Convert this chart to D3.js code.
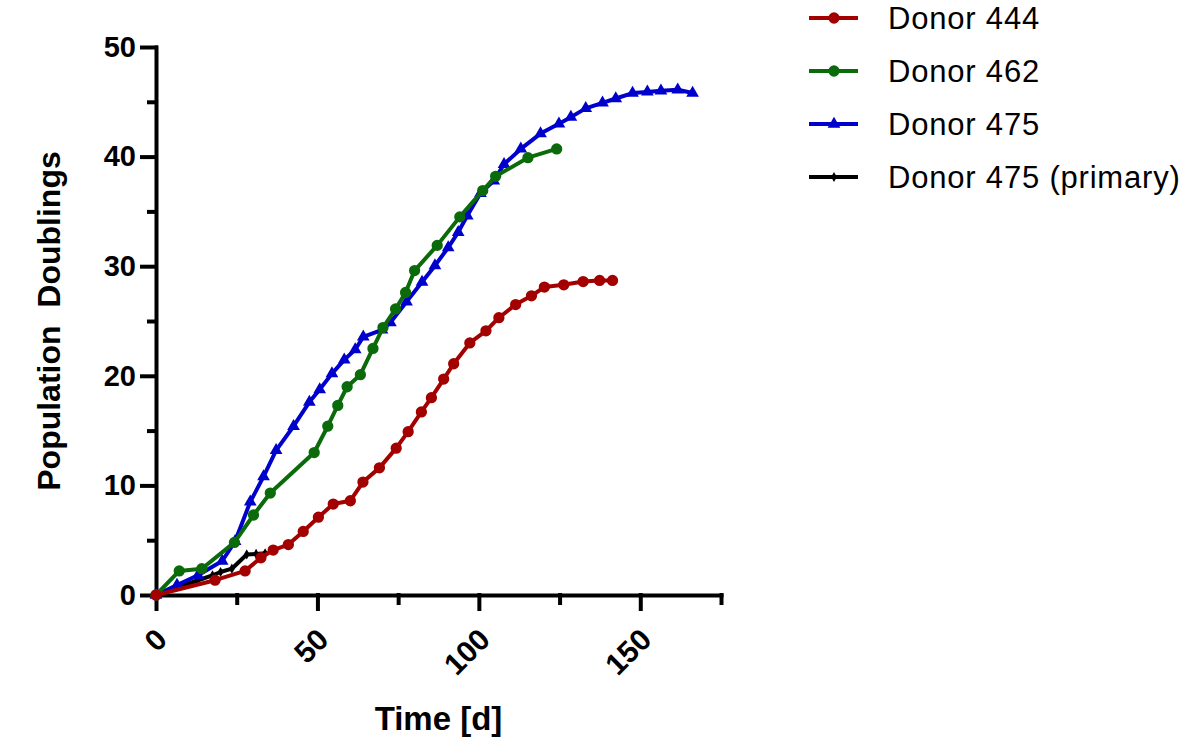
<!DOCTYPE html>
<meta charset="utf-8">
<html>
<head>
<script src="https://d3js.org/d3.v7.min.js"></script>
<style>
body { margin: 0; background: #fff; }
text { font-family: "Liberation Sans", Arial, sans-serif; }
</style>
</head>
<body>
<div id="chart"></div>
<script>

// data: time [d] and population doublings
var days444 = [0, 18.3, 27.6, 32.5, 36.3, 41.0, 45.6, 50.3, 54.9, 60.2, 64.1, 69.2, 74.4, 78.1, 82.2, 85.3, 89.1, 92.2, 97.2, 102.2, 106.2, 111.4, 116.3, 120.3, 126.3, 132.3, 137.4, 141.4];
var pd444   = [0, 1.35, 2.2, 3.4, 4.1, 4.6, 5.8, 7.1, 8.3, 8.6, 10.3, 11.6, 13.4, 14.9, 16.7, 18.0, 19.7, 21.1, 23.0, 24.1, 25.3, 26.5, 27.3, 28.1, 28.3, 28.6, 28.7, 28.7];

var days462 = [0, 7.2, 14.2, 24.3, 30.2, 35.4, 49.0, 53.2, 56.3, 59.2, 63.3, 67.2, 70.3, 74.2, 77.3, 80.1, 87.1, 94.1, 101.2, 105.2, 115.2, 124.1];
var pd462   = [0, 2.2, 2.4, 4.8, 7.3, 9.3, 13.0, 15.4, 17.3, 19.0, 20.1, 22.5, 24.4, 26.1, 27.6, 29.6, 31.9, 34.5, 36.9, 38.2, 39.9, 40.7];

var days475 = [0, 6.5, 13, 20.5, 24.5, 29.2, 33.3, 37.2, 42.6, 47.5, 50.7, 54.5, 58.3, 61.7, 64.2, 70.0, 72.6, 77.6, 82.4, 86.4, 90.5, 93.6, 96.4, 100.5, 104.6, 107.8, 113.0, 119.1, 124.8, 128.5, 133.1, 138.3, 142.4, 147.6, 152.2, 156.4, 161.6, 166.2];
var pd475   = [0, 0.9, 1.8, 3.1, 4.9, 8.5, 10.8, 13.2, 15.4, 17.6, 18.75, 20.2, 21.45, 22.4, 23.55, 24.2, 24.85, 26.75, 28.55, 30.05, 31.7, 33.1, 34.6, 36.65, 37.8, 39.3, 40.7, 42.1, 43.0, 43.6, 44.4, 44.9, 45.3, 45.8, 45.9, 46.0, 46.1, 45.8];

var days475p = [0, 12.6, 17.5, 20, 23.5, 28.1, 31, 33.8];
var pd475p   = [0, 1.3, 1.8, 2.1, 2.4, 3.7, 3.75, 3.8];

var seriesNames  = ["Donor 444", "Donor 462", "Donor 475", "Donor 475 (primary)"];
var seriesColors = ["#a30000", "#0b6b0b", "#0000cc", "#000000"];
var seriesShapes = ["circle", "circle", "triangle", "diamond"];

var xMajor = [0, 50, 100, 150];
var xMinor = [25, 75, 125, 175];
var yMajor = [0, 10, 20, 30, 40, 50];
var yMinor = [5, 15, 25, 35, 45];

var width = 1188, height = 737;
var svg = d3.select("#chart")
  .append("svg")
    .attr("width", width)
    .attr("height", height);

var x = d3.scaleLinear().domain([0, 175]).range([156, 721]);
var y = d3.scaleLinear().domain([0, 50]).range([595, 47]);

function zip(a, b) { return a.map(function(d, i) { return [d, b[i]]; }); }
var series = [
  zip(days444, pd444),
  zip(days462, pd462),
  zip(days475, pd475),
  zip(days475p, pd475p)
];

function symbolFor(shape) {
  if (shape == "circle") return d3.symbol().type(d3.symbolCircle).size(100);
  if (shape == "triangle") return d3.symbol().type(d3.symbolTriangle).size(70);
  return d3.symbol().type(d3.symbolDiamond).size(30);
}

// axes
var yAxis = svg.append("g")
  .attr("transform", "translate(" + x(0) + ",0)")
  .call(d3.axisLeft(y).tickValues(yMajor).tickSize(14).tickSizeOuter(0).tickPadding(6));
svg.append("g")
  .attr("transform", "translate(" + x(0) + ",0)")
  .call(d3.axisLeft(y).tickValues(yMinor).tickSize(7).tickFormat(""))
  .select(".domain").remove();

var xAxis = svg.append("g")
  .attr("transform", "translate(0," + y(0) + ")")
  .call(d3.axisBottom(x).tickValues(xMajor).tickSize(14).tickSizeOuter(0));
svg.append("g")
  .attr("transform", "translate(0," + y(0) + ")")
  .call(d3.axisBottom(x).tickValues(xMinor).tickSize(8).tickFormat(""))
  .select(".domain").remove();

svg.selectAll(".domain, .tick line")
  .attr("stroke", "#000")
  .attr("stroke-width", 4)
  .attr("stroke-linecap", "square");

yAxis.selectAll("text")
  .attr("font-size", 29)
  .attr("font-weight", "bold")
  .attr("fill", "#000");

xAxis.selectAll("text")
  .attr("font-size", 30)
  .attr("font-weight", "bold")
  .attr("fill", "#000")
  .attr("text-anchor", "end")
  .attr("y", 0)
  .attr("dy", "0.35em")
  .attr("transform", "translate(5,39) rotate(-45)");

// axis titles
svg.append("text")
  .attr("transform", "translate(60," + ((y(0) + y(50)) / 2) + ") rotate(-90)")
  .attr("text-anchor", "middle")
  .attr("font-size", 32)
  .attr("font-weight", "bold")
  .style("white-space", "pre")
  .text("Population  Doublings");

svg.append("text")
  .attr("x", (x(0) + x(175)) / 2)
  .attr("y", 730)
  .attr("text-anchor", "middle")
  .attr("font-size", 33)
  .attr("font-weight", "bold")
  .text("Time [d]");

// lines + markers, drawn so the red series ends up on top
var line = d3.line()
  .x(function(d) { return x(d[0]); })
  .y(function(d) { return y(d[1]); });

[3, 2, 1, 0].forEach(function(i) {
  var g = svg.append("g");
  g.append("path")
    .datum(series[i])
    .attr("d", line)
    .attr("fill", "none")
    .attr("stroke", seriesColors[i])
    .attr("stroke-width", 4)
    .attr("stroke-linejoin", "round");
  g.selectAll("path.mark")
    .data(series[i])
    .enter()
    .append("path")
      .attr("class", "mark")
      .attr("d", symbolFor(seriesShapes[i]))
      .attr("transform", function(d) { return "translate(" + x(d[0]) + "," + y(d[1]) + ")"; })
      .attr("fill", seriesColors[i]);
});

// legend
var legendY = [18, 71, 124, 177];
seriesNames.forEach(function(name, i) {
  var lg = svg.append("g").attr("transform", "translate(0," + legendY[i] + ")");
  lg.append("line")
    .attr("x1", 809).attr("x2", 858)
    .attr("y1", 0).attr("y2", 0)
    .attr("stroke", seriesColors[i])
    .attr("stroke-width", 4);
  lg.append("path")
    .attr("d", symbolFor(seriesShapes[i]))
    .attr("transform", "translate(834,0)")
    .attr("fill", seriesColors[i]);
  lg.append("text")
    .attr("x", 888)
    .attr("y", 0)
    .attr("dy", "0.35em")
    .attr("font-size", 31)
    .attr("letter-spacing", "0.8px")
    .attr("fill", "#000")
    .text(name);
});

</script>
</body>
</html>
